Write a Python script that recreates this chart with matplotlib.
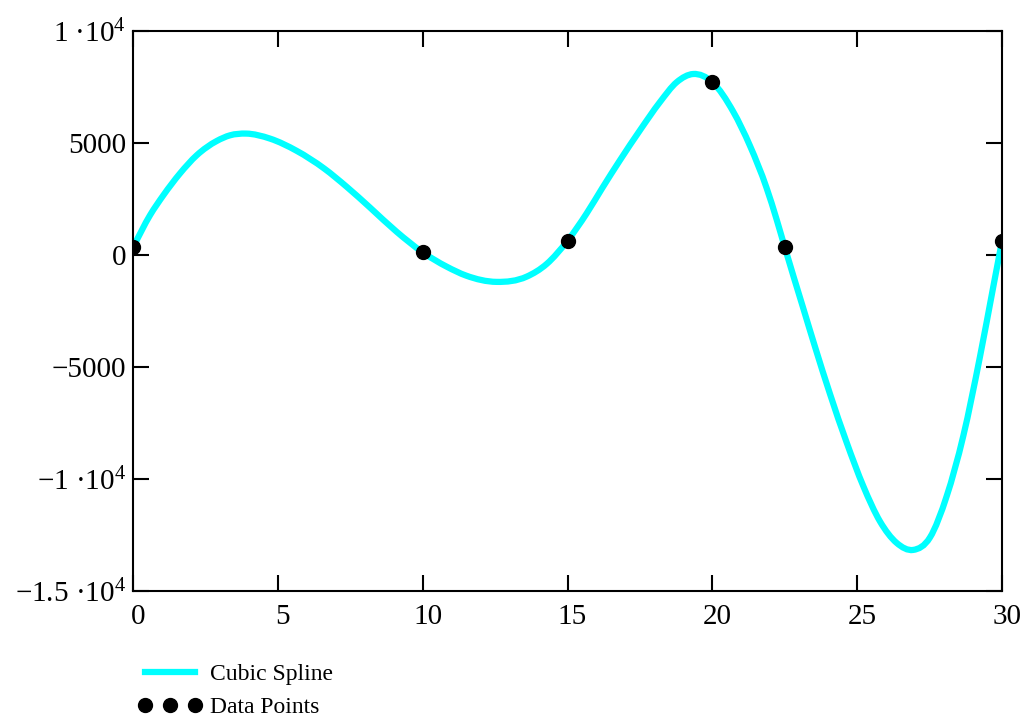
import numpy as np
import matplotlib
matplotlib.use("Agg")
import matplotlib.pyplot as plt
import matplotlib.transforms as mtransforms
from matplotlib.path import Path
from matplotlib.patches import PathPatch
from matplotlib.lines import Line2D

plt.rcParams['font.family'] = ['Liberation Serif', 'DejaVu Serif']
plt.rcParams['mathtext.fontset'] = 'custom'
plt.rcParams['mathtext.rm'] = 'Liberation Serif'
plt.rcParams['mathtext.it'] = 'Liberation Serif:italic'
plt.rcParams['mathtext.default'] = 'regular'

# data points
pts_x = [0, 10, 15, 20, 22.5, 30]
pts_y = [343, 120, 637, 7716, 343, 637]

# cubic spline curve
curve_x = [0.0, 0.59, 1.05, 1.62, 2.20, 2.89, 3.35, 3.90, 4.73, 5.65, 6.60,
           7.38, 8.18, 9.10, 10.0, 10.83, 11.50, 12.55, 13.59, 14.28, 15.0,
           15.66, 16.20, 16.81, 17.50, 18.19, 18.77, 19.34, 20.0, 20.72,
           21.30, 21.87, 22.22, 22.50, 23.12, 23.54, 24.06, 24.64, 25.21,
           25.79, 26.36, 26.93, 27.51, 28.09, 28.66, 29.24, 29.70, 30.0]
curve_y = [343, 1781, 2671, 3638, 4452, 5089, 5343, 5420, 5196, 4650, 3860,
           3041, 2120, 1038, 120, -521, -920, -1200, -966, -400, 637,
           1857, 2990, 4230, 5565, 6826, 7716, 8080, 7716, 6400,
           4870, 3000, 1580, 343, -2302, -4083, -6200, -8384, -10316,
           -11900, -12850, -13166, -12614, -10761, -8090, -4528, -1400, 637]

x_ticks = [0, 5, 10, 15, 20, 25, 30]
y_ticks = [-15000, -10000, -5000, 0, 5000, 10000]
y_tick_labels = ['\u22121.5 \u00b710$^4$', '\u22121 \u00b710$^4$', '\u22125000',
                 '0', '5000', '1 \u00b710$^4$']


def smooth_path(xs, ys):
    # bezier path through the read samples (hermite tangents in x)
    x = np.asarray(xs, float)
    y = np.asarray(ys, float)
    h = np.diff(x)
    d = np.diff(y) / h
    m = np.empty_like(y)
    m[0], m[-1] = d[0], d[-1]
    m[1:-1] = (h[1:] * d[:-1] + h[:-1] * d[1:]) / (h[:-1] + h[1:])
    verts = [(x[0], y[0])]
    codes = [Path.MOVETO]
    for i in range(len(x) - 1):
        verts += [(x[i] + h[i] / 3, y[i] + m[i] * h[i] / 3),
                  (x[i + 1] - h[i] / 3, y[i + 1] - m[i + 1] * h[i] / 3),
                  (x[i + 1], y[i + 1])]
        codes += [Path.CURVE4] * 3
    return Path(verts, codes)


fig = plt.figure(figsize=(10.27, 7.19), dpi=100)
ax = fig.add_axes([0.1295, 0.178, 0.8462, 0.7789])

ax.add_patch(PathPatch(smooth_path(curve_x, curve_y), facecolor='none',
                       edgecolor='#00ffff', lw=4.5, zorder=2))
ax.plot(pts_x, pts_y, 'o', color='black', ms=10, label='Data Points', zorder=3)

ax.set_xlim(0, 30)
ax.set_ylim(-15000, 10000)
ax.set_xticks(x_ticks)
ax.set_xticklabels([str(t) for t in x_ticks])
ax.set_yticks(y_ticks)
ax.set_yticklabels(y_tick_labels)

for s in ax.spines.values():
    s.set_linewidth(1.5)
ax.tick_params(direction='in', length=11.5, width=1.5, top=True, right=True,
               labelsize=21)
ax.tick_params(axis='x', pad=9)
ax.tick_params(axis='y', pad=5)

# Mathcad puts the x labels a little to the right of the tick
off = mtransforms.ScaledTranslation(5 / 100, 0, fig.dpi_scale_trans)
for lbl in ax.get_xticklabels():
    lbl.set_transform(lbl.get_transform() + off)

spline_handle = Line2D([], [], color='#00ffff', lw=4.5)
pts_handle = Line2D([], [], ls='none', marker='o', color='black', ms=10)
fig.legend([spline_handle, pts_handle], ['Cubic Spline', 'Data Points'],
           loc='upper left', bbox_to_anchor=(0.1344, 0.077), frameon=False,
           fontsize=17, numpoints=3, handlelength=2.7, handletextpad=0.35,
           borderpad=0, borderaxespad=0, labelspacing=0.5)

fig.savefig('out.png', dpi=100)
